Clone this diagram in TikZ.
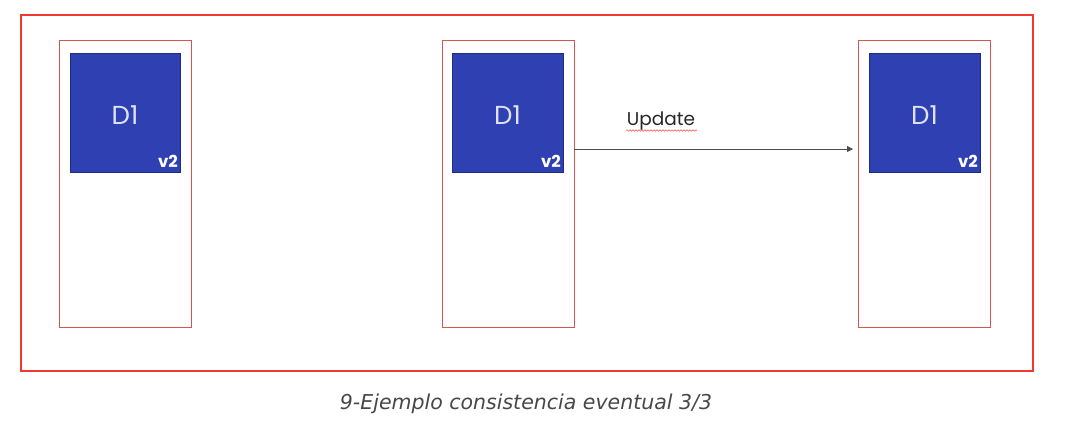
\documentclass[tikz,border=0pt]{standalone}
\usepackage{fontspec}
\setmainfont{Poppins}
\newfontfamily\capfont{DejaVu Sans}
\usetikzlibrary{arrows.meta,decorations.pathmorphing}
\definecolor{frame}{HTML}{F03A30}
\definecolor{srv}{HTML}{D9534F}
\definecolor{blk}{HTML}{2E40B2}
\definecolor{blkedge}{HTML}{1E2C80}
\tikzset{
  server/.style={draw=srv, line width=1pt, fill=white},
  block/.style={draw=blkedge, line width=0.6pt, fill=blk},
  dlabel/.style={text=white!85!blk, font=\fontsize{26}{26}\selectfont},
  vlabel/.style={text=white, font=\bfseries\fontsize{16.5}{16.5}\selectfont, anchor=south east, inner sep=0pt},
}
\begin{document}
\begin{tikzpicture}[x=1pt,y=-1pt]
\useasboundingbox (0,0) rectangle (1088,431);
\draw[draw=frame, line width=1.5pt] (21,15) rectangle (1033,371);
% servers
\draw[server] (59,40) rectangle (191,327);
\draw[server] (442,40) rectangle (574,327);
\draw[server] (858,40) rectangle (990,327);
% blocks
\node[block, minimum width=110pt, minimum height=119pt, inner sep=0pt] (b1) at (125,112.5) {};
\node[block, minimum width=111pt, minimum height=119pt, inner sep=0pt] (b2) at (507.5,112.5) {};
\node[block, minimum width=111pt, minimum height=119pt, inner sep=0pt] (b3) at (924.5,112.5) {};
\node[dlabel] at (125,115) {D1};
\node[dlabel] at (507.5,115) {D1};
\node[dlabel] at (924.5,115) {D1};
\node[vlabel] at (178,168) {v2};
\node[vlabel] at (561,168) {v2};
\node[vlabel] at (978,168) {v2};
% arrow
\coordinate (s) at (574,149);
\coordinate (e) at (853,149);
\draw[draw=black!70, line width=0.8pt, -{Triangle[length=6pt,width=6pt]}] (s) -- (e);
\node[font=\fontsize{18.5}{18.5}\selectfont, text=black!85] (up) at (661,121) {Update};
\coordinate (w1) at (626,130.5);
\coordinate (w2) at (697,130.5);
\draw[draw=red!70, line width=0.5pt, decorate, decoration={snake, amplitude=0.8pt, segment length=3pt}] (w1) -- (w2);
% caption
\node[font=\capfont\itshape\fontsize{20.5}{20.5}\selectfont, text=black!72] (cap) at (526,404) {9-Ejemplo consistencia eventual 3/3};
\end{tikzpicture}
\end{document}
